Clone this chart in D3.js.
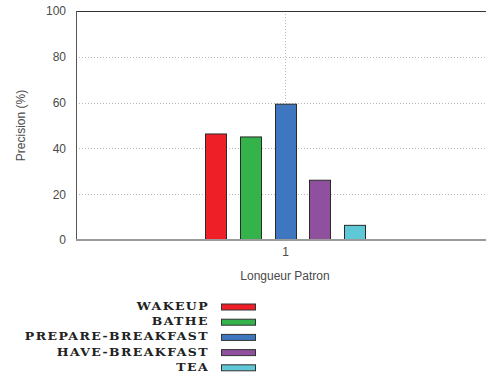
<!DOCTYPE html>
<html>
<head>
<meta charset="utf-8">
<script src="https://cdn.jsdelivr.net/npm/d3@7"></script>
<style>
  html, body { margin: 0; padding: 0; background: #fff; }
  svg { display: block; }
</style>
</head>
<body>
<svg id="chart" width="486" height="381"></svg>
<script>
// Precision per activity for pattern length 1
const groups = ["1"];
const activities = ["WAKEUP", "BATHE", "PREPARE-BREAKFAST", "HAVE-BREAKFAST", "TEA"];
const precision = [46.3, 45.0, 59.3, 26.1, 6.4];
const colors = ["#ee1f26", "#33b34a", "#3e76bf", "#8f519e", "#5fc8d6"];
const yTicks = [0, 20, 40, 60, 80, 100];

const svg = d3.select("#chart");
const margin = { left: 76, top: 11, right: 494, bottom: 240 };

const x = d3.scalePoint().domain(groups).range([margin.left, margin.right]).padding(0.5);
const y = d3.scaleLinear().domain([0, 100]).range([margin.bottom, margin.top]);
const xc = x(groups[0]);
const xb = d3.scaleBand().domain(activities).range([xc - 80.3, xc + 80.3]).paddingInner(0.4).paddingOuter(0);

const font = "'Liberation Sans', Arial, sans-serif";

// horizontal dotted grid
svg.append("g").selectAll("line").data(yTicks.filter(d => d > 0 && d < 100)).join("line")
  .attr("x1", margin.left).attr("x2", margin.right)
  .attr("y1", d => Math.round(y(d)) + 0.5).attr("y2", d => Math.round(y(d)) + 0.5)
  .attr("stroke", "#b8b8b8").attr("stroke-width", 1).attr("stroke-dasharray", "1,2");

// vertical dotted grid at the group
svg.append("line")
  .attr("x1", Math.round(xc) + 0.5).attr("x2", Math.round(xc) + 0.5)
  .attr("y1", margin.top).attr("y2", margin.bottom)
  .attr("stroke", "#b8b8b8").attr("stroke-dasharray", "1,2");

// frame: top and left dark, bottom gray
svg.append("line").attr("x1", margin.left).attr("x2", margin.right)
  .attr("y1", margin.top + 0.5).attr("y2", margin.top + 0.5).attr("stroke", "#333");
svg.append("line").attr("x1", margin.left + 0.5).attr("x2", margin.left + 0.5)
  .attr("y1", margin.top).attr("y2", margin.bottom).attr("stroke", "#555");

// bars
svg.append("g").selectAll("rect").data(activities).join("rect")
  .attr("x", d => Math.round(xb(d)) + 0.5)
  .attr("y", (d, i) => y(precision[i]))
  .attr("width", Math.round(xb.bandwidth()))
  .attr("height", (d, i) => y(0) - y(precision[i]))
  .attr("fill", (d, i) => colors[i])
  .attr("stroke", "#2a2a2a").attr("stroke-width", 1);

svg.append("line").attr("x1", margin.left).attr("x2", margin.right)
  .attr("y1", margin.bottom).attr("y2", margin.bottom)
  .attr("stroke", "#9a9a9a").attr("stroke-width", 2);

// y axis labels
const yAxis = svg.append("g").attr("transform", `translate(${margin.left},0)`)
  .call(d3.axisLeft(y).tickValues(yTicks).tickSize(0).tickPadding(10));
yAxis.select(".domain").remove();
yAxis.selectAll("text").attr("font-family", font).attr("font-size", 12).attr("fill", "#4a4a4a");

// x axis labels
const xAxis = svg.append("g").attr("transform", `translate(0,${margin.bottom})`)
  .call(d3.axisBottom(x).tickSize(0).tickPadding(7));
xAxis.select(".domain").remove();
xAxis.selectAll("text").attr("font-family", font).attr("font-size", 12).attr("fill", "#4a4a4a");

svg.append("text").attr("x", xc).attr("y", 280).attr("text-anchor", "middle")
  .attr("font-family", font).attr("font-size", 12).attr("fill", "#4a4a4a")
  .text("Longueur Patron");

svg.append("text").attr("transform", `translate(25,${(margin.top + margin.bottom) / 2}) rotate(-90)`)
  .attr("text-anchor", "middle")
  .attr("font-family", font).attr("font-size", 12).attr("fill", "#4a4a4a")
  .text("Precision (%)");

// legend: swatches on the right, wide bold serif labels right-aligned before them
const legend = svg.append("g");
const rows = legend.selectAll("g").data(activities).join("g")
  .attr("transform", (d, i) => `translate(0,${307 + i * 15.2})`);
rows.append("rect").attr("x", 221.5).attr("y", -3).attr("width", 34).attr("height", 6)
  .attr("fill", (d, i) => colors[i]).attr("stroke", "#333").attr("stroke-width", 1);
rows.append("text")
  .attr("transform", "translate(209,3) scale(1.19,1)")
  .attr("text-anchor", "end")
  .attr("font-family", "'DejaVu Serif', serif").attr("font-weight", "bold")
  .attr("font-size", 10.5).attr("letter-spacing", 1.2).attr("fill", "#222")
  .text(d => d);
</script>
</body>
</html>
